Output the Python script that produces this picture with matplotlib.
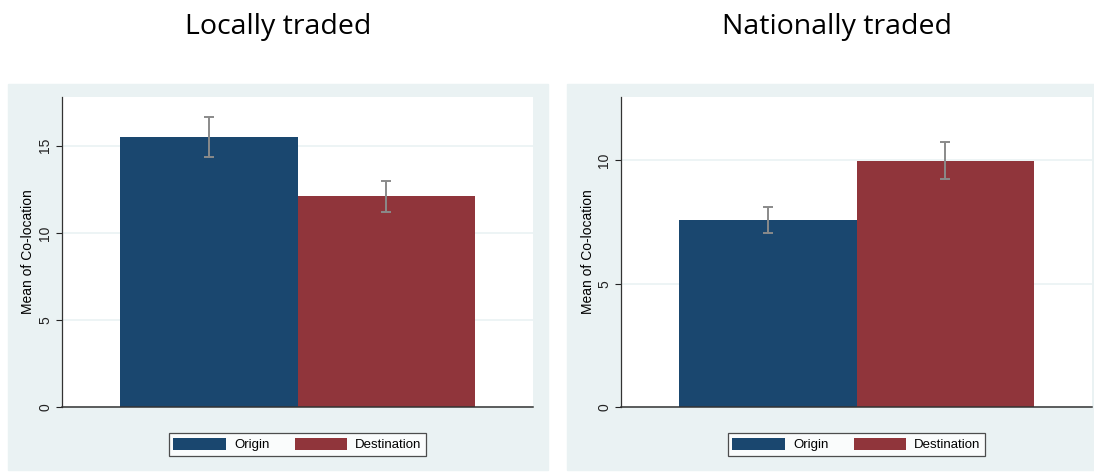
import numpy as np
import matplotlib.pyplot as plt
from matplotlib.patches import Rectangle, Patch

# data
panels = ["Locally traded", "Nationally traded"]
groups = ["Origin", "Destination"]
local_mean = [15.53, 12.13]
local_lo = [14.38, 11.19]
local_hi = [16.65, 13.00]
national_mean = [7.58, 9.97]
national_lo = [7.05, 9.24]
national_hi = [8.10, 10.74]
local_ticks = [0, 5, 10, 15]
national_ticks = [0, 5, 10]
local_ymax = 17.8
national_ymax = 12.57

colors = ["#1a476f", "#90353b"]
bg = "#eaf2f3"

W, H = 1094, 472
fig = plt.figure(figsize=(W / 100, H / 100), dpi=100, facecolor="white")

def fx(px):
    return px / W

def fy(py):
    return 1 - py / H

def draw_panel(x0, title, means, lo, hi, ticks, ymax):
    # outer grey-blue panel background
    fig.patches.append(Rectangle((fx(x0 - 54), fy(470)), fx(540), (470 - 84) / H,
                                 transform=fig.transFigure, color=bg, zorder=-5))
    fig.text(fx(x0 - 54 + 270), fy(27), title, ha="center", va="center",
             fontsize=20.5, family="Open Sans")
    ax = fig.add_axes([fx(x0), fy(407), fx(471), 310 / H])
    ax.set_zorder(2)
    ax.set_facecolor("white")
    xs = np.arange(len(means)) + 0.5
    ax.bar(xs, means, width=1.0, color=colors, zorder=2)
    means = np.array(means)
    yerr = [means - np.array(lo), np.array(hi) - means]
    ax.errorbar(xs, means, yerr=yerr, fmt="none", ecolor="#8a8a8a",
                elinewidth=1.4, capsize=3.5, capthick=1.4, zorder=3)
    ax.set_xlim(-0.325, 2.325)
    ax.set_ylim(0, ymax)
    ax.set_yticks(ticks)
    ax.set_yticklabels([str(t) for t in ticks], rotation=90, va="center",
                       family="Liberation Sans", fontsize=10)
    ax.tick_params(axis="y", length=4, width=0.8, pad=3, colors="#222222")
    ax.set_xticks([])
    ax.grid(axis="y", color=bg, linewidth=1.2, zorder=0)
    ax.set_axisbelow(True)
    for s in ["top", "right"]:
        ax.spines[s].set_visible(False)
    ax.spines["left"].set_color("#333333")
    ax.spines["bottom"].set_color("#333333")
    ax.spines["left"].set_linewidth(0.9)
    ax.spines["bottom"].set_linewidth(1.1)
    ax.set_ylabel("Mean of Co-location", family="Liberation Sans", fontsize=10,
                  labelpad=2)
    handles = [Patch(facecolor=c) for c in colors]
    leg = fig.legend(handles, groups, loc="center",
                     bbox_to_anchor=(fx(x0 + 235.5), fy(444.5)), ncol=2,
                     frameon=True, fancybox=False, edgecolor="#222222",
                     prop={"family": "Liberation Sans", "size": 9.5},
                     handlelength=4.0, handleheight=1.0, columnspacing=1.9,
                     handletextpad=0.6, borderpad=0.35)
    leg.get_frame().set_linewidth(0.9)
    leg.set_zorder(3)
    return ax

draw_panel(62, panels[0], local_mean, local_lo, local_hi, local_ticks, local_ymax)
draw_panel(621, panels[1], national_mean, national_lo, national_hi, national_ticks, national_ymax)

fig.savefig("out.png", dpi=100, facecolor="white")
